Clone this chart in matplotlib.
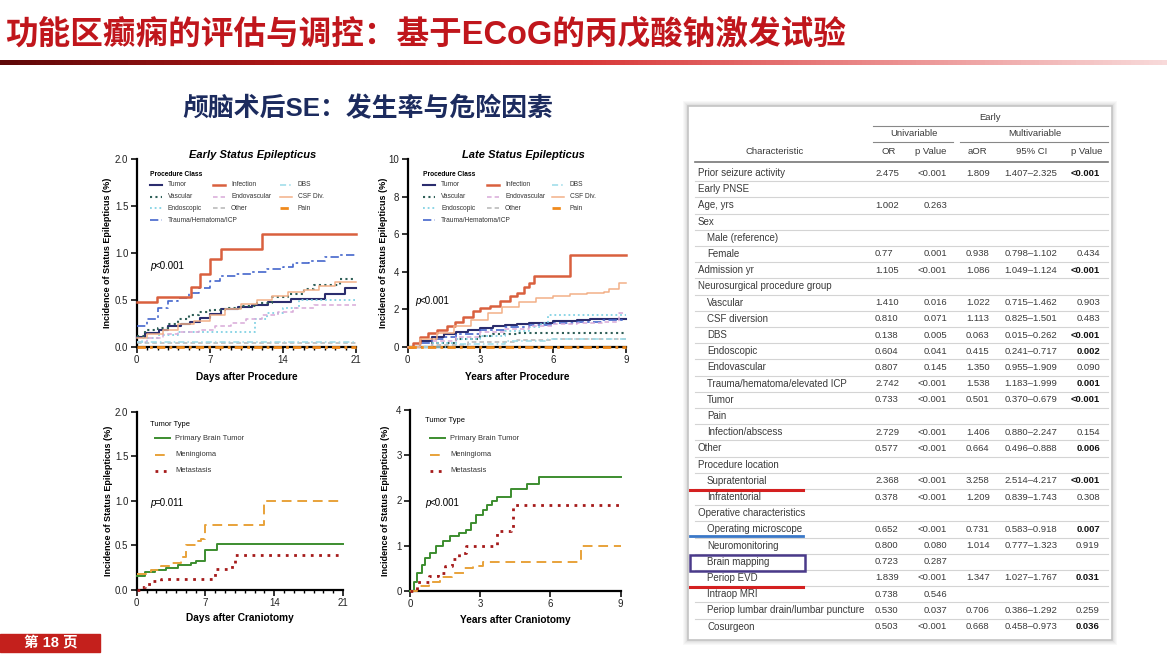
import matplotlib.pyplot as plt
from matplotlib.colors import LinearSegmentedColormap
from matplotlib.patches import Rectangle
import numpy as np

W, H = 1167, 657
plt.rcParams['font.family'] = ['Liberation Sans', 'DejaVu Sans']
CJK = ['Liberation Sans', 'Noto Sans CJK SC', 'DejaVu Sans']

# ---- slide text
page_title = '功能区癫痫的评估与调控：基于ECoG的丙戊酸钠激发试验'
sub_title = '颅脑术后SE：发生率与危险因素'
page_no = '第 18 页'

# ---- procedure class curves, early (days)
proc_classes = ['Tumor', 'Vascular', 'Endoscopic', 'Trauma/Hematoma/ICP', 'Infection',
                'Endovascular', 'Other', 'DBS', 'CSF Div.', 'Pain']

early_tumor_x = [0, 0.8, 2.1, 3.0, 4.2, 5.1, 6.1, 7.0, 8.1, 9.7, 11.0, 12.6, 14.8, 18.0, 19.9, 21]
early_tumor_y = [0.11, 0.15, 0.18, 0.22, 0.24, 0.27, 0.31, 0.35, 0.40, 0.43, 0.45, 0.48, 0.51, 0.56, 0.63, 0.63]
early_vascular_x = [0, 0.8, 2, 3, 4, 5, 6, 7, 8.5, 10, 11.5, 13, 14.5, 16, 17, 19.5, 21]
early_vascular_y = [0.12, 0.18, 0.20, 0.25, 0.30, 0.34, 0.37, 0.39, 0.41, 0.44, 0.47, 0.53, 0.56, 0.62, 0.66, 0.72, 0.72]
early_endoscopic_x = [0, 0.5, 2, 4, 11, 11.3, 12.5, 14, 15.5, 21]
early_endoscopic_y = [0.05, 0.10, 0.13, 0.155, 0.155, 0.30, 0.36, 0.42, 0.50, 0.50]
early_trauma_x = [0, 1, 2, 3, 4, 5, 6, 7, 8, 9.5, 11, 12.5, 14, 15, 16.5, 18, 19.5, 21]
early_trauma_y = [0.22, 0.30, 0.42, 0.49, 0.52, 0.57, 0.63, 0.70, 0.76, 0.78, 0.80, 0.83, 0.85, 0.89, 0.92, 0.96, 0.98, 0.98]
early_infection_x = [0, 1.9, 5.2, 6.1, 7.0, 8.1, 12.0, 21]
early_infection_y = [0.48, 0.53, 0.64, 0.78, 0.94, 1.04, 1.20, 1.20]
early_endovascular_x = [0, 1, 2.5, 4, 6, 7.5, 9, 10.5, 12, 13.5, 15, 17, 21]
early_endovascular_y = [0.05, 0.10, 0.14, 0.16, 0.18, 0.22, 0.26, 0.30, 0.34, 0.37, 0.41, 0.45, 0.45]
early_other_x = [0, 21]
early_other_y = [0.04, 0.04]
early_dbs_x = [0, 21]
early_dbs_y = [0.05, 0.05]
early_csf_x = [0, 1, 2.5, 4, 5.5, 7, 8.5, 10, 11.5, 13, 14.5, 16, 17.5, 19, 21]
early_csf_y = [0.10, 0.14, 0.18, 0.24, 0.28, 0.34, 0.40, 0.46, 0.50, 0.54, 0.58, 0.61, 0.65, 0.69, 0.69]
early_pain_x = [0, 21]
early_pain_y = [0, 0]

# ---- procedure class curves, late (years)
late_tumor_x = [0, 0.5, 1, 1.5, 2, 2.5, 3, 3.5, 4, 4.5, 5, 6, 7, 7.5, 9]
late_tumor_y = [0, 0.30, 0.55, 0.70, 0.82, 0.92, 1.00, 1.10, 1.18, 1.25, 1.30, 1.36, 1.42, 1.49, 1.49]
late_vascular_x = [0, 1, 2, 3, 3.5, 4.5, 9]
late_vascular_y = [0, 0.20, 0.40, 0.60, 0.70, 0.75, 0.75]
late_endoscopic_x = [0, 1, 2, 3, 4, 5, 5.5, 5.8, 9]
late_endoscopic_y = [0, 0.20, 0.40, 0.60, 0.85, 1.05, 1.30, 1.70, 1.70]
late_trauma_x = [0, 0.5, 1, 1.5, 2, 3, 4, 5, 6, 7, 8, 9]
late_trauma_y = [0, 0.20, 0.40, 0.55, 0.68, 0.88, 1.05, 1.18, 1.28, 1.35, 1.42, 1.42]
late_infection_x = [0, 0.2, 0.5, 0.85, 1.2, 1.6, 1.95, 2.3, 2.7, 3.0, 3.4, 3.8, 4.2, 4.5, 4.8, 5.0, 5.2, 6.7, 9]
late_infection_y = [0, 0.20, 0.55, 0.75, 0.90, 1.10, 1.35, 1.60, 1.90, 2.05, 2.20, 2.45, 2.70, 2.85, 3.20, 3.40, 3.80, 4.90, 4.90]
late_endovascular_x = [0, 1, 2, 3, 4, 5, 6, 7, 8, 8.7, 9]
late_endovascular_y = [0, 0.30, 0.55, 0.80, 0.98, 1.12, 1.25, 1.30, 1.32, 1.80, 1.80]
late_other_x = [0, 1, 2.5, 4.5, 6, 9]
late_other_y = [0, 0.10, 0.25, 0.35, 0.40, 0.40]
late_dbs_x = [0, 2, 4, 5.8, 9]
late_dbs_y = [0, 0.15, 0.30, 0.40, 0.40]
late_csf_x = [0, 0.5, 1.2, 1.9, 2.6, 3.3, 3.9, 4.6, 5.3, 6.0, 6.7, 7.4, 8.1, 8.3, 8.7, 9]
late_csf_y = [0, 0.40, 0.75, 1.10, 1.45, 1.80, 2.15, 2.40, 2.60, 2.70, 2.80, 2.85, 2.95, 3.10, 3.40, 3.40]
late_pain_x = [0, 9]
late_pain_y = [0, 0]

# ---- tumor type curves
tumor_types = ['Primary Brain Tumor', 'Meningioma', 'Metastasis']
early_pbt_x = [0, 0.85, 1.9, 3.0, 4.2, 5.5, 6.0, 7.0, 8.2, 21]
early_pbt_y = [0.16, 0.20, 0.22, 0.25, 0.28, 0.30, 0.32, 0.45, 0.52, 0.52]
early_men_x = [0, 1.5, 2.5, 3.5, 4.5, 5.0, 6.0, 6.5, 7.0, 13.0, 21]
early_men_y = [0.18, 0.22, 0.27, 0.30, 0.37, 0.50, 0.55, 0.57, 0.73, 1.00, 1.00]
early_met_x = [0, 0.3, 0.8, 1.5, 2.5, 8.0, 9.7, 10.0, 21]
early_met_y = [0.0, 0.03, 0.07, 0.10, 0.12, 0.23, 0.30, 0.39, 0.39]
late_pbt_x = [0, 0.15, 0.3, 0.5, 0.65, 0.85, 1.1, 1.4, 1.7, 2.1, 2.4, 2.6, 2.8, 3.1, 3.3, 3.5, 3.7, 4.3, 5.0, 5.5, 9]
late_pbt_y = [0, 0.20, 0.40, 0.58, 0.72, 0.85, 1.00, 1.10, 1.22, 1.28, 1.35, 1.50, 1.68, 1.78, 1.90, 2.00, 2.08, 2.25, 2.37, 2.52, 2.52]
late_men_x = [0, 0.3, 0.8, 1.3, 1.8, 2.3, 2.7, 3.1, 7.3, 9]
late_men_y = [0, 0.10, 0.20, 0.30, 0.40, 0.50, 0.55, 0.65, 1.00, 1.00]
late_met_x = [0, 0.3, 0.8, 1.2, 1.5, 1.8, 2.1, 2.4, 3.6, 3.7, 4.3, 4.4, 9]
late_met_y = [0, 0.20, 0.33, 0.40, 0.55, 0.70, 0.85, 1.00, 1.00, 1.33, 1.40, 1.90, 1.90]

p_texts = ['p<0.001', 'p<0.001', 'p=0.011', 'p<0.001']

# ---- risk factor table
char_labels = ['Prior seizure activity', 'Early PNSE', 'Age, yrs', 'Sex', 'Male (reference)', 'Female',
               'Admission yr', 'Neurosurgical procedure group', 'Vascular', 'CSF diversion', 'DBS',
               'Endoscopic', 'Endovascular', 'Trauma/hematoma/elevated ICP', 'Tumor', 'Pain',
               'Infection/abscess', 'Other', 'Procedure location', 'Supratentorial', 'Infratentorial',
               'Operative characteristics', 'Operating microscope', 'Neuromonitoring', 'Brain mapping',
               'Periop EVD', 'Intraop MRI', 'Periop lumbar drain/lumbar puncture', 'Cosurgeon']
char_indent = [0, 0, 0, 0, 1, 1, 0, 0, 1, 1, 1, 1, 1, 1, 1, 1, 1, 0, 0, 1, 1, 0, 1, 1, 1, 1, 1, 1, 1]
or_vals = ['2.475', '', '1.002', '', '', '0.77', '1.105', '', '1.410', '0.810', '0.138', '0.604', '0.807',
           '2.742', '0.733', '', '2.729', '0.577', '', '2.368', '0.378', '', '0.652', '0.800', '0.723',
           '1.839', '0.738', '0.530', '0.503']
p_uni = ['<0.001', '', '0.263', '', '', '0.001', '<0.001', '', '0.016', '0.071', '0.005', '0.041', '0.145',
         '<0.001', '<0.001', '', '<0.001', '<0.001', '', '<0.001', '<0.001', '', '<0.001', '0.080', '0.287',
         '<0.001', '0.546', '0.037', '<0.001']
aor_vals = ['1.809', '', '', '', '', '0.938', '1.086', '', '1.022', '1.113', '0.063', '0.415', '1.350',
            '1.538', '0.501', '', '1.406', '0.664', '', '3.258', '1.209', '', '0.731', '1.014', '',
            '1.347', '', '0.706', '0.668']
ci_vals = ['1.407–2.325', '', '', '', '', '0.798–1.102', '1.049–1.124', '', '0.715–1.462', '0.825–1.501',
           '0.015–0.262', '0.241–0.717', '0.955–1.909', '1.183–1.999', '0.370–0.679', '', '0.880–2.247',
           '0.496–0.888', '', '2.514–4.217', '0.839–1.743', '', '0.583–0.918', '0.777–1.323', '',
           '1.027–1.767', '', '0.386–1.292', '0.458–0.973']
p_multi = ['<0.001', '', '', '', '', '0.434', '<0.001', '', '0.903', '0.483', '<0.001', '0.002', '0.090',
           '0.001', '<0.001', '', '0.154', '0.006', '', '<0.001', '0.308', '', '0.007', '0.919', '',
           '0.031', '', '0.259', '0.036']
p_multi_bold = [1, 0, 0, 0, 0, 0, 1, 0, 0, 0, 1, 1, 0, 1, 1, 0, 0, 1, 0, 1, 0, 0, 1, 0, 0, 1, 0, 0, 1]

# ---- series styles
proc_style = {
    'Tumor': ('#2b2d6e', '-', 1.5),
    'Vascular': ('#2f5f58', (0, (1, 1.6)), 1.5),
    'Endoscopic': ('#82d2e4', (0, (1, 1.6)), 1.3),
    'Trauma/Hematoma/ICP': ('#4466cc', (0, (5, 2, 1.5, 2)), 1.2),
    'Infection': ('#d9603e', '-', 1.8),
    'Endovascular': ('#d8aad8', (0, (3, 2)), 1.1),
    'Other': ('#b5b5b5', (0, (3, 2)), 1.1),
    'DBS': ('#9adbe8', (0, (4, 2, 1, 2)), 1.1),
    'CSF Div.': ('#f2b088', '-', 1.1),
    'Pain': ('#f08a1c', (0, (3, 1.5, 1, 1.5)), 2.0),
}
tumor_style = {
    'Primary Brain Tumor': ('#3c8d2f', '-', 1.4),
    'Meningioma': ('#e8a23a', (0, (5, 3)), 1.4),
    'Metastasis': ('#a51a1a', (0, (1, 2)), 2.0),
}

fig = plt.figure(figsize=(W / 100, H / 100), dpi=100)
fig.patch.set_facecolor('white')


def axes_px(l, t, r, b):
    return fig.add_axes([l / W, 1 - b / H, (r - l) / W, (b - t) / H])


def style_km(ax, xmax, ymax, xticks, yticks, yfmt, minor):
    ax.set_xlim(0, xmax)
    ax.set_ylim(0, ymax)
    ax.set_xticks(xticks)
    ax.set_yticks(yticks)
    ax.set_yticklabels([yfmt.format(v) for v in yticks])
    if minor:
        ax.set_xticks(np.arange(0, xmax + 1, 1), minor=True)
    for s in ['top', 'right']:
        ax.spines[s].set_visible(False)
    for s in ['left', 'bottom']:
        ax.spines[s].set_linewidth(1.6)
    ax.tick_params(direction='out', length=4, width=1.3, labelsize=7, colors='#222222', pad=2)
    ax.tick_params(which='minor', direction='out', length=2.5, width=1)
    ax.patch.set_alpha(0)


def km(ax, x, y, style):
    c, ls, lw = style
    ax.step(x, y, where='post', color=c, linestyle=ls, lw=lw, clip_on=False, zorder=3)


def labels(ax, title, xlab, ylab, xl_y, yl_x):
    if title:
        ax.text(0.53, 1.02, title, transform=ax.transAxes, ha='center', va='center',
                fontsize=8, fontweight='bold', fontstyle='italic')
    ax.set_xlabel(xlab, fontsize=7.3, fontweight='bold')
    ax.set_ylabel(ylab, fontsize=6.5, fontweight='bold')
    ax.xaxis.set_label_coords(0.5, xl_y)
    ax.yaxis.set_label_coords(yl_x, 0.5)


# ---- chart 1: early SE by procedure class
ax1 = axes_px(136.7, 159, 356, 347)
style_km(ax1, 21, 2.0, [0, 7, 14, 21], [0, 0.5, 1.0, 1.5, 2.0], '{:.1f}', True)
early_series = [(early_tumor_x, early_tumor_y), (early_vascular_x, early_vascular_y),
                (early_endoscopic_x, early_endoscopic_y), (early_trauma_x, early_trauma_y),
                (early_infection_x, early_infection_y), (early_endovascular_x, early_endovascular_y),
                (early_other_x, early_other_y), (early_dbs_x, early_dbs_y),
                (early_csf_x, early_csf_y), (early_pain_x, early_pain_y)]
for name, (x, y) in zip(proc_classes, early_series):
    km(ax1, x, y, proc_style[name])
labels(ax1, 'Early Status Epilepticus', 'Days after Procedure',
       'Incidence of Status Epilepticus (%)', -0.135, -0.113)

# ---- chart 2: late SE by procedure class
ax2 = axes_px(407.7, 159, 626, 347)
style_km(ax2, 9, 10, [0, 3, 6, 9], [0, 2, 4, 6, 8, 10], '{:d}', False)
late_series = [(late_tumor_x, late_tumor_y), (late_vascular_x, late_vascular_y),
               (late_endoscopic_x, late_endoscopic_y), (late_trauma_x, late_trauma_y),
               (late_infection_x, late_infection_y), (late_endovascular_x, late_endovascular_y),
               (late_other_x, late_other_y), (late_dbs_x, late_dbs_y),
               (late_csf_x, late_csf_y), (late_pain_x, late_pain_y)]
for name, (x, y) in zip(proc_classes, late_series):
    km(ax2, x, y, proc_style[name])
labels(ax2, 'Late Status Epilepticus', 'Years after Procedure',
       'Incidence of Status Epilepticus (%)', -0.135, -0.09)

# ---- chart 3: early SE by tumor type
ax3 = axes_px(136.7, 411.7, 343, 590)
style_km(ax3, 21, 2.0, [0, 7, 14, 21], [0, 0.5, 1.0, 1.5, 2.0], '{:.1f}', True)
for name, (x, y) in zip(tumor_types, [(early_pbt_x, early_pbt_y), (early_men_x, early_men_y),
                                      (early_met_x, early_met_y)]):
    km(ax3, x, y, tumor_style[name])
labels(ax3, None, 'Days after Craniotomy', 'Incidence of Status Epilepticus (%)', -0.129, -0.115)

# ---- chart 4: late SE by tumor type
ax4 = axes_px(410, 410, 620.7, 591)
style_km(ax4, 9, 4, [0, 3, 6, 9], [0, 1, 2, 3, 4], '{:d}', False)
for name, (x, y) in zip(tumor_types, [(late_pbt_x, late_pbt_y), (late_men_x, late_men_y),
                                      (late_met_x, late_met_y)]):
    km(ax4, x, y, tumor_style[name])
labels(ax4, None, 'Years after Craniotomy', 'Incidence of Status Epilepticus (%)', -0.133, -0.095)

# ---- overlay in pixel coordinates
ov = fig.add_axes([0, 0, 1, 1], zorder=10)
ov.set_xlim(0, W)
ov.set_ylim(H, 0)
ov.axis('off')

# header
ov.text(5, 36, page_title, family=CJK, fontsize=23.5, fontweight='bold', color='#c0161c',
        ha='left', va='center')
grad = LinearSegmentedColormap.from_list('g', ['#5e0808', '#b01818', '#d83838', '#ea8a8a', '#f8dada'])
ov.imshow(np.linspace(0, 1, 256)[None, :], cmap=grad, extent=(0, W, 65, 60), aspect='auto', zorder=1)
ov.set_xlim(0, W)
ov.set_ylim(H, 0)
ov.text(182, 109, sub_title, family=CJK, fontsize=18.6, fontweight='bold', color='#1c2b5e',
        ha='left', va='center')

# footer
ov.add_patch(Rectangle((0, 634), 100, 18, color='#c4201c', zorder=2))
ov.text(51, 643, page_no, family=CJK, fontsize=10.5, fontweight='bold', color='white',
        ha='center', va='center', zorder=3)

# p-values
for (px, py), t in zip([(150, 266), (415, 301), (150, 503), (425, 503)], p_texts):
    ov.text(px, py, t[0], fontsize=7, fontstyle='italic', ha='left', va='center')
    ov.text(px + 4.3, py, t[1:], fontsize=7, ha='left', va='center')


def proc_legend(x0, y0, dcols):
    ov.text(x0, y0, 'Procedure Class', fontsize=4.8, fontweight='bold', ha='left', va='center')
    slots = [(0, 0), (0, 1), (0, 2), (0, 3), (1, 0), (1, 1), (1, 2), (2, 0), (2, 1), (2, 2)]
    for name, (c, r) in zip(proc_classes, slots):
        col, ls, lw = proc_style[name]
        yy = y0 + 11 + r * 11.7
        xx = x0 + dcols[c]
        ov.plot([xx, xx + 12], [yy, yy], color=col, linestyle=ls, lw=lw)
        ov.text(xx + 18, yy, name, fontsize=4.8, color='#333333', ha='left', va='center')


def tumor_legend(x0, y0, y1):
    ov.text(x0, y0, 'Tumor Type', fontsize=5.4, ha='left', va='center')
    for i, name in enumerate(tumor_types):
        col, ls, lw = tumor_style[name]
        yy = y1 + i * 16.5
        ov.plot([x0 + 5, x0 + 20], [yy, yy], color=col, linestyle=ls, lw=lw)
        ov.text(x0 + 25, yy, name, fontsize=5.4, color='#333333', ha='left', va='center')


proc_legend(150, 174, [0, 63, 130])
proc_legend(423, 174, [0, 64, 129])
tumor_legend(150, 425, 438)
tumor_legend(425, 421, 438)

# ---- table panel
for k, a in enumerate([0.05, 0.05, 0.06, 0.08]):
    d = 5 - k
    ov.add_patch(Rectangle((688 - d, 106 - d), 424 + 2 * d, 534 + 2 * d, color='#808080', alpha=a,
                           lw=0, zorder=1))
ov.add_patch(Rectangle((688, 106), 424, 534, facecolor='white', edgecolor='#c4c4c4', lw=1.2, zorder=2))

tc = '#3a3a3a'
tfs = 6.8
ov.text(990, 118, 'Early', fontsize=tfs, color=tc, ha='center', va='center', zorder=3)
ov.plot([873, 1108], [126, 126], color='#888888', lw=0.8, zorder=3)
ov.text(914, 134, 'Univariable', fontsize=tfs, color=tc, ha='center', va='center', zorder=3)
ov.text(1035, 134, 'Multivariable', fontsize=tfs, color=tc, ha='center', va='center', zorder=3)
ov.plot([873, 953], [142, 142], color='#888888', lw=0.8, zorder=3)
ov.plot([960, 1108], [142, 142], color='#888888', lw=0.8, zorder=3)
for hx, ht in zip([775, 889, 931, 977, 1032, 1087],
                  ['Characteristic', 'OR', 'p Value', 'aOR', '95% CI', 'p Value']):
    ov.text(hx, 152, ht, fontsize=tfs, color=tc, ha='center', va='center', zorder=3)
ov.plot([695, 1108], [161.5, 161.5], color='#777777', lw=1.2, zorder=3)

row0, dy = 173, 16.2
for i, lab in enumerate(char_labels):
    y = row0 + i * dy
    ov.text(698 + 9 * char_indent[i], y, lab, fontsize=7, color=tc, ha='left', va='center', zorder=3)
    ov.text(875, y, or_vals[i], fontsize=tfs, color=tc, ha='left', va='center', zorder=3)
    ov.text(947, y, p_uni[i], fontsize=tfs, color=tc, ha='right', va='center', zorder=3)
    ov.text(966, y, aor_vals[i], fontsize=tfs, color=tc, ha='left', va='center', zorder=3)
    ov.text(1031, y, ci_vals[i], fontsize=tfs, color=tc, ha='center', va='center', zorder=3)
    ov.text(1100, y, p_multi[i], fontsize=tfs, color='#111111' if p_multi_bold[i] else tc,
            fontweight='bold' if p_multi_bold[i] else 'normal', ha='right', va='center', zorder=3)
    if i < len(char_labels) - 1:
        ov.plot([695, 1108], [y + dy / 2, y + dy / 2], color='#d4d4d4', lw=0.8, zorder=3)

# hand-drawn highlights on the table
ov.plot([690, 803], [490, 490], color='#d42020', lw=2.2, zorder=4)
ov.plot([690, 803], [536, 536], color='#3a78c8', lw=2.0, zorder=4)
ov.add_patch(Rectangle((690, 555), 115, 16, fill=False, edgecolor='#4a3a8a', lw=1.8, zorder=4))
ov.plot([690, 803], [587, 587], color='#d42020', lw=2.2, zorder=4)

fig.savefig('out.png', dpi=100, facecolor='white')
